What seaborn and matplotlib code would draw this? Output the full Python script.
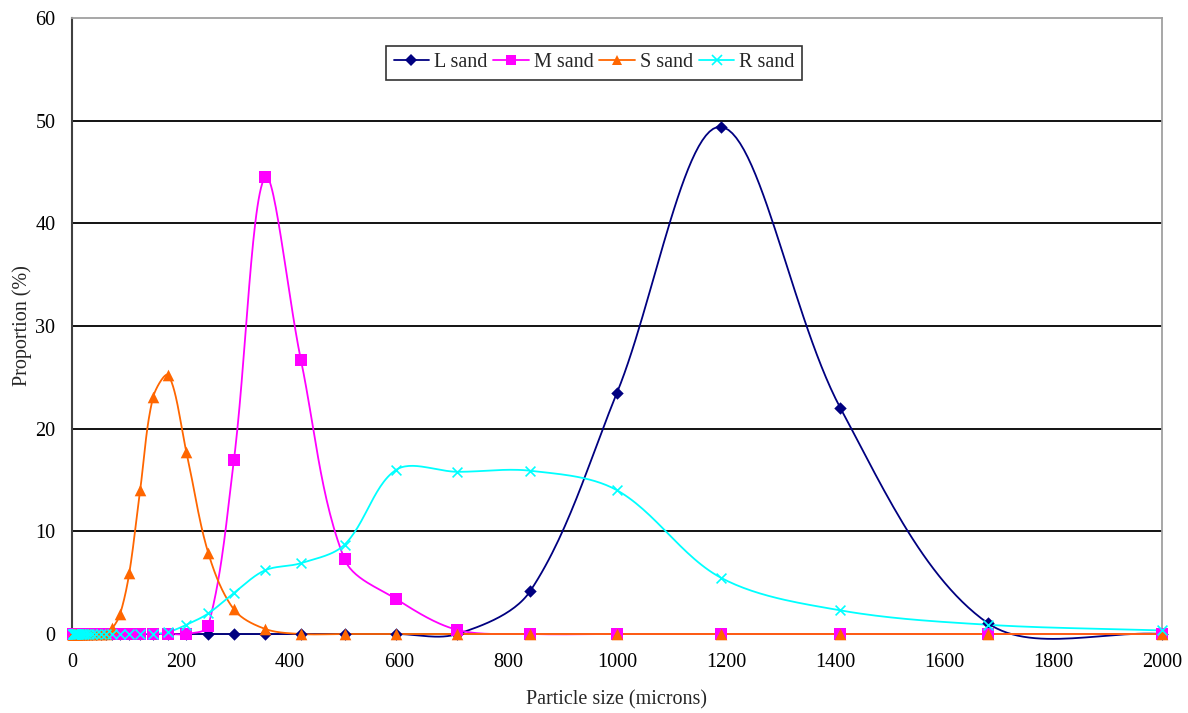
import numpy as np
import pandas as pd
import matplotlib
matplotlib.use("Agg")
import matplotlib.pyplot as plt
from matplotlib.lines import Line2D
import seaborn as sns

# ── Data ─────────────────────────────────────────────────────────────────────
SIZES = [2000, 1680, 1410, 1190, 1000, 841, 707, 595, 500, 420, 354, 297,
         250, 210, 177, 149, 125, 105, 88, 74, 63, 53, 44, 37, 31, 26, 22,
         18.5, 15.6, 13.1, 11, 9.3, 7.8, 6.5, 5.5, 4.6, 3.9, 3.3, 2.8, 2.3,
         1.9, 1.6, 1.4, 1.2, 1.0]
N_SMALL = len(SIZES) - 13

L_SAND = [0, 1.07, 22.0, 49.4, 23.5, 4.2, 0, 0, 0, 0, 0, 0, 0] + [0] * N_SMALL
M_SAND = [0, 0, 0, 0, 0, 0, 0.4, 3.4, 7.3, 26.7, 44.5, 16.9, 0.8] + [0] * N_SMALL
S_SAND = ([0, 0, 0, 0, 0, 0, 0, 0, 0, 0, 0.5, 2.4, 7.9]
          + [17.7, 25.2, 23.1, 14.0, 5.9, 1.9, 0.55] + [0] * (N_SMALL - 7))
R_SAND = ([0.35, 0.9, 2.3, 5.5, 14.0, 15.9, 15.8, 16.0, 8.7, 6.9, 6.2, 4.0, 2.0]
          + [0.9, 0.2] + [0] * (N_SMALL - 2))

SERIES = ["L sand", "M sand", "S sand", "R sand"]
VALUES = [L_SAND, M_SAND, S_SAND, R_SAND]
COLORS = {"L sand": "#000080", "M sand": "#FF00FF", "S sand": "#FF6600", "R sand": "#00FFFF"}
MARKERS = {"L sand": "D", "M sand": "s", "S sand": "^", "R sand": "x"}
MSIZE = {"L sand": 40, "M sand": 64, "S sand": 70, "R sand": 50}

XTICKS = list(range(0, 2001, 200))
YTICKS = list(range(0, 61, 10))

# pixels per data unit, used to weight the smoothing in screen space
PX_X = 1090 / 2000
PX_Y = 616 / 60
FS = 14.5


def excel_smooth(x, y, n=30):
    """Bezier smoothing close to Excel's 'smoothed line' (chord-weighted tangents)."""
    p = np.column_stack([x, y]).astype(float)
    scr = p * [PX_X, PX_Y]
    out = [p[0]]
    t = np.linspace(0, 1, n)[1:, None]
    last = len(p) - 1

    def dist(a, b):
        return np.hypot(*(scr[b] - scr[a])) + 1e-9

    for i in range(last):
        i0 = max(i - 1, 0)
        i3 = min(i + 2, last)
        d0, d1, d2 = dist(i0, i), dist(i, i + 1), dist(i + 1, i3)
        c1 = p[i] + (p[i + 1] - p[i0]) * d1 / (d0 + d1) / 3
        c2 = p[i + 1] - (p[i3] - p[i]) * d1 / (d1 + d2) / 3
        seg = ((1 - t) ** 3 * p[i] + 3 * (1 - t) ** 2 * t * c1
               + 3 * (1 - t) * t ** 2 * c2 + t ** 3 * p[i + 1])
        out.extend(seg)
    out = np.array(out)
    return out[:, 0], out[:, 1]


df = pd.concat([pd.DataFrame({"size": SIZES, "prop": v, "series": s})
                for s, v in zip(SERIES, VALUES)], ignore_index=True)

sns.set_style("white")
plt.rcParams["font.family"] = ["Liberation Serif", "DejaVu Serif"]

fig = plt.figure(figsize=(11.88, 7.13), dpi=100)
ax = fig.add_axes([72 / 1188, 1 - 634 / 713, 1090 / 1188, 616 / 713])

for s in SERIES:
    sub = df[df["series"] == s].sort_values("size")
    xs, ys = excel_smooth(sub["size"].values, sub["prop"].values)
    ax.plot(xs, ys, color=COLORS[s], lw=1.3, zorder=3, clip_on=False)
    sns.scatterplot(data=sub, x="size", y="prop", color=COLORS[s],
                    marker=MARKERS[s], s=MSIZE[s], ax=ax, zorder=4,
                    edgecolor=COLORS[s] if MARKERS[s] != "x" else None,
                    linewidth=1.2 if MARKERS[s] == "x" else 0, clip_on=False,
                    legend=False)

ax.set_xlim(0, 2000)
ax.set_ylim(0, 60)
ax.set_xticks(XTICKS)
ax.set_yticks(YTICKS)
ax.tick_params(axis="both", labelsize=FS, colors="#000000", direction="out",
               length=6, width=1.2)
ax.tick_params(axis="x", pad=8)
ax.tick_params(axis="y", pad=6)

for yv in YTICKS[1:-1]:
    ax.axhline(yv, color="black", lw=1.3, zorder=1)

ax.spines["left"].set_color("#404040")
ax.spines["left"].set_linewidth(1.5)
ax.spines["bottom"].set_color("#404040")
ax.spines["bottom"].set_linewidth(1.2)
for side in ["top", "right"]:
    ax.spines[side].set_color("#A0A0A0")
    ax.spines[side].set_linewidth(1.3)

ax.set_xlabel("Particle size (microns)", fontsize=FS, labelpad=13)
ax.set_ylabel("Proportion (%)", fontsize=FS, labelpad=2)

handles = [Line2D([0], [0], color=COLORS[s], lw=1.3, marker=MARKERS[s],
                  markersize=7 if MARKERS[s] != "D" else 6,
                  markeredgewidth=1.2 if MARKERS[s] == "x" else 0,
                  markerfacecolor=COLORS[s], markeredgecolor=COLORS[s])
           for s in SERIES]
leg = ax.legend(handles, SERIES, loc="upper center", bbox_to_anchor=(0.479, 0.955),
                ncol=4, fontsize=FS, frameon=True, fancybox=False,
                handlelength=1.75, handletextpad=0.25, columnspacing=0.3,
                borderpad=0.38, borderaxespad=0)
leg.get_frame().set_edgecolor("black")
leg.get_frame().set_linewidth(1.2)

fig.savefig("out.png", dpi=100)
